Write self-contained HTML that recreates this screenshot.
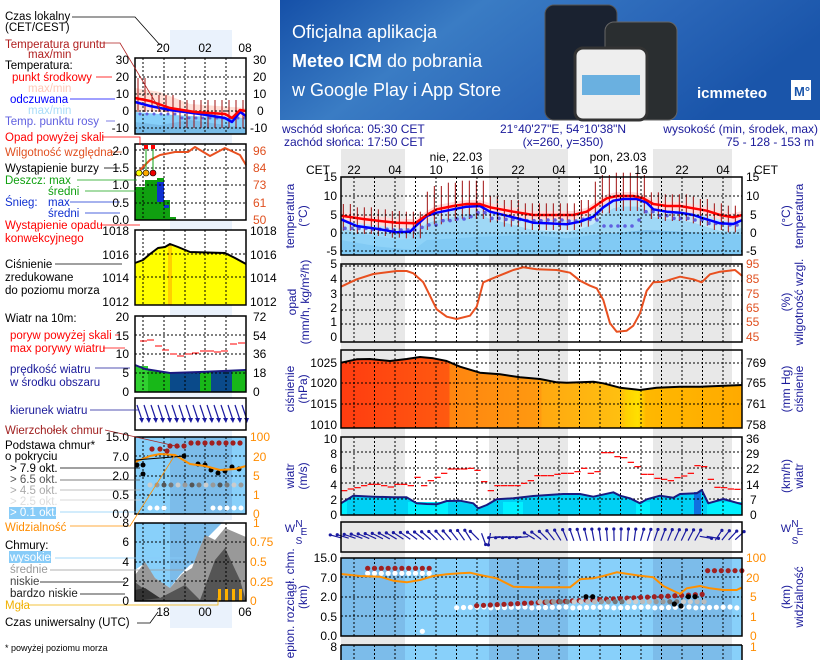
<!DOCTYPE html>
<html><head><meta charset="utf-8"><style>
html,body{margin:0;padding:0;background:#fff;}
svg{display:block;font-family:"Liberation Sans",sans-serif;}
</style></head><body>
<svg id="s" width="820" height="660" viewBox="0 0 820 660" xmlns="http://www.w3.org/2000/svg">
<defs>
<linearGradient id="bn" x1="0" y1="0" x2="1" y2="0.3"><stop offset="0" stop-color="#1550a8"/><stop offset="0.35" stop-color="#3a7cc4"/><stop offset="0.7" stop-color="#2a66b8"/><stop offset="1" stop-color="#1a55aa"/></linearGradient>
<linearGradient id="pg" x1="0" y1="0" x2="1" y2="0">
<stop offset="0" stop-color="#ff3c10"/><stop offset="0.27" stop-color="#ff5a10"/><stop offset="0.27" stop-color="#ff8510"/><stop offset="0.5" stop-color="#ff9a10"/><stop offset="0.5" stop-color="#ffa810"/><stop offset="0.7" stop-color="#ffc010"/><stop offset="0.71" stop-color="#ffd000"/><stop offset="0.74" stop-color="#ffe000"/><stop offset="0.76" stop-color="#ffb800"/><stop offset="1" stop-color="#ffaa00"/></linearGradient>
</defs>
<rect x="280" y="0" width="540" height="120" fill="url(#bn)"/>
<text x="292" y="38" fill="#fff" font-size="18">Oficjalna aplikacja</text>
<text x="292" y="67" fill="#fff" font-size="18"><tspan font-weight="bold">Meteo ICM</tspan> do pobrania</text>
<text x="292" y="96" fill="#fff" font-size="18">w Google Play i App Store</text>
<rect x="545" y="5" width="72" height="115" rx="9" fill="#1a2230" stroke="#555"/>
<rect x="605" y="22" width="72" height="98" rx="9" fill="#2a2e30" stroke="#666"/>
<rect x="575" y="48" width="72" height="72" rx="8" fill="#eee" stroke="#333" stroke-width="3"/>
<rect x="582" y="75" width="58" height="20" fill="#6ab0e0"/>
<text x="697" y="98" fill="#fff" font-size="15" font-weight="bold">icmmeteo</text>
<rect x="791" y="80" width="20" height="20" fill="#fff"/><text x="794" y="96" fill="#1a55aa" font-size="13" font-weight="bold">M°</text>

<rect x="170" y="30" width="62" height="598" fill="#eaf2fc"/>
<rect x="341" y="149" width="64" height="511" fill="#e8e8e8"/>
<rect x="489" y="149" width="79" height="511" fill="#e8e8e8"/>
<rect x="653" y="149" width="79" height="511" fill="#e8e8e8"/>

<g id="g"></g>

<g fill="#1a1a9a" font-size="12">
<text x="282" y="133">wschód słońca: 05:30 CET</text>
<text x="284" y="146">zachód słońca: 17:50 CET</text>
<text x="563" y="133" text-anchor="middle">21°40'27"E, 54°10'38"N</text>
<text x="563" y="146" text-anchor="middle">(x=260,  y=350)</text>
<text x="818" y="133" text-anchor="end">wysokość (min, środek, max)</text>
<text x="770" y="146" text-anchor="middle">75 - 128 - 153 m</text>
</g>
<g fill="#000" font-size="12" text-anchor="middle">
<text x="456" y="161">nie, 22.03</text><text x="618" y="161">pon, 23.03</text>
<text x="318" y="174">CET</text><text x="766" y="174">CET</text>
<text x="354" y="174">22</text><text x="395" y="174">04</text><text x="436" y="174">10</text><text x="477" y="174">16</text><text x="518" y="174">22</text><text x="559" y="174">04</text><text x="600" y="174">10</text><text x="641" y="174">16</text><text x="682" y="174">22</text><text x="723" y="174">04</text>
</g>
<g font-size="12" fill="#000">
<g text-anchor="end">
<text x="337" y="181">15</text><text x="337" y="200">10</text><text x="337" y="219">5</text><text x="337" y="237">0</text><text x="337" y="255">-5</text>
<text x="337" y="268">5</text><text x="337" y="283">4</text><text x="337" y="298">3</text><text x="337" y="312">2</text><text x="337" y="326">1</text><text x="337" y="341">0</text>
<text x="337" y="367">1025</text><text x="337" y="387">1020</text><text x="337" y="408">1015</text><text x="337" y="429">1010</text>
<text x="337" y="443">10</text><text x="337" y="458">8</text><text x="337" y="473">6</text><text x="337" y="489">4</text><text x="337" y="504">2</text><text x="337" y="519">0</text>
<text x="337" y="562">15.0</text><text x="337" y="582">7.0</text><text x="337" y="601">2.0</text><text x="337" y="621">0.5</text><text x="337" y="640">0.0</text>
<text x="337" y="651">8</text>
</g>
<text x="746" y="181">15</text><text x="746" y="200">10</text><text x="750" y="219">5</text><text x="750" y="237">0</text><text x="746" y="255">-5</text>
<g fill="#e05020"><text x="746" y="268">95</text><text x="746" y="283">85</text><text x="746" y="298">75</text><text x="746" y="312">65</text><text x="746" y="326">55</text><text x="746" y="341">45</text></g>
<text x="746" y="367">769</text><text x="746" y="387">765</text><text x="746" y="408">761</text><text x="746" y="429">758</text>
<text x="746" y="443">36</text><text x="746" y="458">29</text><text x="746" y="473">22</text><text x="746" y="489">14</text><text x="750" y="504">7</text><text x="750" y="519">0</text>
<g fill="#ff8c00"><text x="746" y="562">100</text><text x="746" y="582">20</text><text x="750" y="601">5</text><text x="750" y="621">1</text><text x="750" y="640">0</text><text x="750" y="651">1</text></g>
</g>
<g font-size="12" fill="#1a1a9a" text-anchor="middle">
<text transform="translate(294,216) rotate(-90)">temperatura</text><text transform="translate(307,216) rotate(-90)">(°C)</text>
<text transform="translate(296,302) rotate(-90)">opad</text><text transform="translate(309,302) rotate(-90)">(mm/h, kg/m²/h)</text>
<text transform="translate(294,389) rotate(-90)">ciśnienie</text><text transform="translate(307,389) rotate(-90)">(hPa)</text>
<text transform="translate(294,476) rotate(-90)">wiatr</text><text transform="translate(307,476) rotate(-90)">(m/s)</text>
<text transform="translate(294,600) rotate(-90)">pion. rozciągł. chm.</text><text transform="translate(307,597) rotate(-90)">(km)</text>
<text transform="translate(294,655) rotate(-90)">e</text>
<text transform="translate(790,216) rotate(-90)">(°C)</text><text transform="translate(803,216) rotate(-90)">temperatura</text>
<text transform="translate(790,302) rotate(-90)">(%)</text><text transform="translate(803,302) rotate(-90)">wilgotność wzgl.</text>
<text transform="translate(790,389) rotate(-90)">(mm Hg)</text><text transform="translate(803,389) rotate(-90)">ciśnienie</text>
<text transform="translate(790,476) rotate(-90)">(km/h)</text><text transform="translate(803,476) rotate(-90)">wiatr</text>
<text transform="translate(790,597) rotate(-90)">(km)</text><text transform="translate(803,597) rotate(-90)">widzialność</text>
<text x="290" y="532" font-size="11">W</text><text x="299" y="527" font-size="10">N</text><text x="299" y="544" font-size="10">S</text><text x="304" y="535" font-size="10">E</text>
<text x="786" y="532" font-size="11">W</text><text x="795" y="527" font-size="10">N</text><text x="795" y="544" font-size="10">S</text><text x="800" y="535" font-size="10">E</text>
</g>

<g font-size="11.5">
<text x="5" y="20">Czas lokalny</text><text x="5" y="31">(CET/CEST)</text>
<text x="5" y="48" fill="#b02020">Temperatura gruntu</text><text x="28" y="58" fill="#b02020">max/min</text>
<text x="5" y="69">Temperatura:</text>
<text x="12" y="81" fill="#f00">punkt środkowy</text><text x="28" y="92" fill="#ffc8b8">max/min</text>
<text x="10" y="103" fill="#00f">odczuwana</text><text x="28" y="114" fill="#a8dcf8">max/min</text>
<text x="5" y="125" fill="#6060e0">Temp. punktu rosy</text>
<text x="5" y="141" fill="#f00">Opad powyżej skali</text>
<text x="5" y="156" fill="#e05020">Wilgotność względna</text>
<text x="5" y="172">Wystąpienie burzy</text>
<text x="5" y="184" fill="#10a010">Deszcz: max</text><text x="48" y="195" fill="#10a010">średni</text>
<text x="5" y="206" fill="#1030d0">Śnieg:</text><text x="48" y="206" fill="#1030d0">max</text><text x="48" y="217" fill="#1030d0">średni</text>
<text x="5" y="229" fill="#f00">Wystąpienie opadu</text><text x="5" y="242" fill="#f00">konwekcyjnego</text>
<text x="5" y="268">Ciśnienie</text><text x="5" y="281">zredukowane</text><text x="5" y="294">do poziomu morza</text>
<text x="5" y="322">Wiatr na 10m:</text>
<text x="10" y="339" fill="#f00">poryw powyżej skali</text><text x="10" y="352" fill="#f00">max porywy wiatru</text>
<text x="10" y="373" fill="#1a1a9a">prędkość wiatru</text><text x="10" y="386" fill="#1a1a9a">w środku obszaru</text>
<text x="10" y="414" fill="#1a1a9a">kierunek wiatru</text>
<text x="5" y="434" fill="#a02020">Wierzchołek chmur</text>
<text x="5" y="449">Podstawa chmur*</text><text x="5" y="460">o pokryciu</text>
<text x="10" y="472">&gt; 7.9 okt.</text><text x="10" y="483" fill="#555">&gt; 6.5 okt.</text><text x="10" y="494" fill="#aaa">&gt; 4.5 okt.</text><text x="10" y="505" fill="#ddd">&gt; 2.5 okt.</text>
<rect x="9" y="507" width="47" height="12" fill="#88ccf8"/><text x="10" y="516" fill="#fff">&gt; 0.1 okt.</text>
<text x="5" y="531" fill="#ff8c00">Widzialność</text>
<text x="5" y="549">Chmury:</text>
<rect x="9" y="551" width="42" height="12" fill="#88ccf8"/><text x="10" y="561" fill="#fff">wysokie</text>
<text x="10" y="573" fill="#999">średnie</text><text x="10" y="585" fill="#444">niskie</text><text x="10" y="597" fill="#222">bardzo niskie</text>
<text x="5" y="609" fill="#f0b000">Mgła</text>
<text x="5" y="626">Czas uniwersalny (UTC)</text>
<text x="5" y="651" font-size="9">* powyżej poziomu morza</text>
</g>
<g font-size="12" text-anchor="middle">
<text x="163" y="52">20</text><text x="205" y="52">02</text><text x="245" y="52">08</text>
<text x="163" y="616">18</text><text x="205" y="616">00</text><text x="245" y="616">06</text>
</g>
<g font-size="12" text-anchor="end">
<text x="129" y="64">30</text><text x="129" y="81">20</text><text x="129" y="98">10</text><text x="129" y="115">0</text><text x="129" y="132">-10</text>
<text x="129" y="155">2.0</text><text x="129" y="172">1.5</text><text x="129" y="189">1.0</text><text x="129" y="207">0.5</text><text x="129" y="224">0.0</text>
<text x="129" y="235">1018</text><text x="129" y="259">1016</text><text x="129" y="282">1014</text><text x="129" y="306">1012</text>
<text x="129" y="321">20</text><text x="129" y="340">15</text><text x="129" y="358">10</text><text x="129" y="377">5</text><text x="129" y="396">0</text>
<text x="129" y="441">15.0</text><text x="129" y="461">7.0</text><text x="129" y="480">2.0</text><text x="129" y="499">0.5</text><text x="129" y="518">0.0</text>
<text x="129" y="527">8</text><text x="129" y="546">6</text><text x="129" y="566">4</text><text x="129" y="586">2</text><text x="129" y="605">0</text>
</g>
<g font-size="12">
<text x="253" y="64">30</text><text x="253" y="81">20</text><text x="253" y="98">10</text><text x="257" y="115">0</text><text x="250" y="132">-10</text>
<g fill="#e05020"><text x="253" y="155">96</text><text x="253" y="172">84</text><text x="253" y="189">73</text><text x="253" y="207">61</text><text x="253" y="224">50</text></g>
<text x="250" y="235">1018</text><text x="250" y="259">1016</text><text x="250" y="282">1014</text><text x="250" y="306">1012</text>
<text x="253" y="321">72</text><text x="253" y="340">54</text><text x="253" y="358">36</text><text x="253" y="377">18</text><text x="253" y="396">0</text>
<g fill="#ff8c00"><text x="250" y="441">100</text><text x="253" y="461">20</text><text x="253" y="480">5</text><text x="253" y="499">1</text><text x="253" y="518">0</text>
<text x="253" y="527">1</text><text x="250" y="546">0.75</text><text x="250" y="566">0.5</text><text x="250" y="586">0.25</text><text x="250" y="605">0</text></g>
</g>
</svg>
<script>
var NS="http://www.w3.org/2000/svg",G=document.getElementById("g");
function el(t,a,p){var e=document.createElementNS(NS,t);for(var k in a)e.setAttribute(k,a[k]);(p||G).appendChild(e);return e;}
function Z1(a){return a.map(function(p){return (280+p[0]/3).toFixed(1)+","+(120+p[1]/3).toFixed(1)}).join(" ");}
function Z2(a){return a.map(function(p){return (280+p[0]/3).toFixed(1)+","+(340+p[1]/3).toFixed(1)}).join(" ");}
function pl(pts,st,w,f){return el(f?"polygon":"polyline",{points:pts,fill:f||"none",stroke:st,"stroke-width":w,"stroke-linejoin":"round"});}
function grid(x1,x2,y1,y2,xs,ys){xs.forEach(function(x){el("line",{x1:x,x2:x,y1:y1,y2:y2,stroke:"#000","stroke-width":1,"stroke-dasharray":"2,2"})});ys.forEach(function(y){el("line",{x1:x1,x2:x2,y1:y,y2:y,stroke:"#000","stroke-width":1,"stroke-dasharray":"2,2"})});}
function box(x,y,w,h){el("rect",{x:x,y:y,width:w,height:h,fill:"none",stroke:"#000","stroke-width":1.5});}
var MX=[];for(var i=0;i<19;i++)MX.push(354+i*20.5);
var red=[[183,287],[250,297],[300,303],[350,308],[405,310],[440,285],[470,268],[520,258],[560,252],[600,252],[630,262],[700,275],[760,285],[880,285],[920,275],[950,255],[980,235],[1010,228],[1060,228],[1090,235],[1120,252],[1160,258],[1200,258],[1240,265],[1280,272],[1320,285],[1360,292],[1387,285]];
var blu=[[183,298],[230,318],[300,328],[350,337],[390,335],[405,320],[440,288],[470,278],[520,268],[560,260],[600,258],[630,275],[700,292],[760,308],[800,310],[860,313],[900,305],[940,290],[970,262],[1000,242],[1030,237],[1070,237],[1100,248],[1120,268],[1160,275],[1200,278],[1240,285],[1270,295],[1320,310],[1360,312],[1387,300]];
function shift(a,d){return a.map(function(p){return [p[0],p[1]+d]});}
el("rect",{x:341,y:233,width:401,height:22,fill:"#86d0fa"});
pl(Z1(shift(blu,22).concat([[1387,405],[183,405]])),"none",0,"#9fd8f6");
pl(Z1([[183,360],[300,380],[400,390],[440,360],[600,350],[760,345],[860,355],[940,345],[1100,330],[1300,340],[1387,345],[1387,405],[183,405]]),"none",0,"#7cc0ec");
pl(Z1(shift(blu,-12).concat(shift(blu,22).reverse())),"none",0,"#c6e8fa");
pl(Z1(shift(red,-12).concat(shift(red,14).reverse())),"none",0,"#ffdcdc");
el("rect",{x:341,y:233,width:401,height:22,fill:"#86d0fa","fill-opacity":0.6});
for(var x=190;x<1380;x+=21){var t=red.reduce(function(b,p){return Math.abs(p[0]-x)<Math.abs(b[0]-x)?p:b;});var a=(x>440&&x<620)||(x>930&&x<1110)?70:35;el("line",{x1:280+x/3,x2:280+x/3,y1:120+(t[1]-a)/3,y2:120+(t[1]+45)/3,stroke:"#a01010","stroke-width":1});}
var dew=[[195,325],[250,325],[300,328],[350,330],[400,330],[430,322],[460,315],[500,302],[540,297],[570,290],[600,278],[630,295],[700,298],[760,302],[820,300],[880,303],[920,298],[950,300],[980,318],[1050,318],[1080,300],[1100,275],[1150,287],[1200,295],[1250,300],[1300,310],[1387,315]];
for(var x=195;x<1387;x+=21){var t=dew.reduce(function(b,p){return Math.abs(p[0]-x)<Math.abs(b[0]-x)?p:b;});el("circle",{cx:280+x/3,cy:120+t[1]/3,r:1.8,fill:"#6060e0"});}
pl(Z1(blu),"#0000ff",2.5);pl(Z1(red),"#ff0000",2.5);
grid(341,742,177,255,MX,[196,215,233,251]);box(341,177,401,78);
var hum=[[183,500],[230,478],[280,462],[350,453],[380,453],[400,460],[430,487],[470,568],[500,590],[530,597],[570,587],[590,560],[610,487],[650,470],[700,450],[730,442],[770,448],[830,450],[870,458],[900,482],[930,497],[950,505],[970,540],[990,610],[1010,635],[1040,632],[1060,617],[1080,580],[1100,512],[1120,487],[1150,485],[1200,470],[1240,478],[1265,487],[1290,463],[1320,455],[1365,450],[1387,468]];
grid(341,742,264,342,MX,[266,281,295,310,324]);pl(Z1(hum),"#e85020",2);box(341,264,401,78);
var pr=[[183,68],[230,58],[270,57],[330,63],[380,57],[420,51],[460,55],[500,63],[540,80],[600,98],[660,103],[720,112],[780,117],[830,127],[860,128],[940,125],[970,130],[1020,143],[1080,150],[1130,143],[1200,140],[1260,140],[1387,135]];
pl(Z2(pr.concat([[1387,265],[183,265]])),"none",0,"url(#pg)");
grid(341,742,350,428,MX,[363,383,404]);pl(Z2(pr),"#000",2);box(341,350,401,78);
var wd=[[183,490],[220,467],[280,470],[340,472],[380,472],[410,490],[440,492],[470,493],[500,483],[540,482],[580,490],[595,505],[620,495],[650,478],[700,475],[760,468],[850,462],[900,462],[940,470],[1000,457],[1020,467],[1050,475],[1080,490],[1100,478],[1140,467],[1180,473],[1200,462],[1250,460],[1265,450],[1285,490],[1330,477],[1387,493]];
pl(Z2(wd.concat([[1387,525],[183,525]])),"none",0,"#00d0f4");
el("rect",{x:341,y:502,width:6,height:13,fill:"#00f0ff"});el("rect",{x:408,y:502,width:40,height:13,fill:"#00f0ff"});el("rect",{x:503,y:502,width:20,height:13,fill:"#00f0ff"});el("rect",{x:636,y:502,width:14,height:13,fill:"#00f0ff"});el("rect",{x:694,y:492,width:7,height:23,fill:"#1070e0"});el("rect",{x:707,y:502,width:35,height:13,fill:"#00f0ff"});
grid(341,742,437,515,MX,[452,468,483,499]);
var gu=[[183,452],[203,447],[223,443],[243,437],[263,433],[283,433],[303,437],[323,441],[343,433],[363,433],[383,437],[403,412],[423,437],[443,422],[463,412],[483,400],[503,387],[523,387],[543,387],[563,385],[583,391],[603,425],[623,452],[643,437],[663,437],[683,437],[703,437],[723,430],[743,422],[763,407],[783,407],[803,407],[823,403],[843,400],[863,400],[883,395],[903,385],[923,400],[943,395],[963,338],[983,338],[1003,350],[1023,353],[1043,367],[1063,380],[1083,403],[1103,403],[1123,415],[1143,418],[1163,422],[1183,413],[1203,408],[1223,400],[1243,377],[1263,380],[1283,418],[1303,442],[1323,443],[1343,447],[1363,448]];
gu.forEach(function(p){el("line",{x1:280+p[0]/3,x2:280+(p[0]+19)/3,y1:340+p[1]/3,y2:340+p[1]/3,stroke:"#f00","stroke-width":1.2})});
pl(Z2(wd),"#1a1a80",2);box(341,437,401,78);
// wind direction arrows (angle = direction arrow points, deg from east, CCW)
for(var k=0;k<59;k++){var x=338+k*6.9,ang;
 if(x<425)ang=165-(x-338)/87*25;
 else if(x<475)ang=140-(x-425)/50*20;
 else if(x<482)ang=135;
 else if(x<496)ang=[290,260,250][k%3];
 else if(x<530)ang=185;
 else if(x<560)ang=150-(x-530)/30*30;
 else if(x<640)ang=115-(x-560)/80*35;
 else if(x<700)ang=75-(x-640)/60*15;
 else if(x<712)ang=350;
 else ang=60-(x-712)/30*20;
 var r=ang*Math.PI/180,L=8,cx=x,cy=537;var x2=cx+L*Math.cos(r),y2=cy-L*Math.sin(r),x1=cx-L*Math.cos(r)*0.5,y1=cy+L*Math.sin(r)*0.5;
 el("line",{x1:x1,y1:y1,x2:x2,y2:y2,stroke:"#1a1aa0","stroke-width":1.2});el("circle",{cx:x2,cy:y2,r:1.6,fill:"#1a1aa0"});}
box(341,522,401,30);
el("rect",{x:341,y:558,width:401,height:78,fill:"#88d0fa"});
[[341,64],[489,79],[653,79]].forEach(function(b){el("rect",{x:b[0],y:558,width:b[1],height:78,fill:"#7cbcea"})});
el("rect",{x:341,y:645,width:401,height:15,fill:"#88d0fa"});
[[341,64],[489,79],[653,79]].forEach(function(b){el("rect",{x:b[0],y:645,width:b[1],height:15,fill:"#7cbcea"})});
grid(341,742,558,636,MX,[577,597,616]);
grid(341,742,645,660,MX,[]);
var vis=[[183,702],[240,708],[300,710],[340,722],[380,727],[420,720],[460,708],[500,703],[540,700],[570,698],[600,705],[650,715],[700,740],[760,742],[870,742],[900,718],[940,715],[970,708],[1010,697],[1050,703],[1080,707],[1120,712],[1150,738],[1200,762],[1220,745],[1260,738],[1290,745],[1330,750],[1370,750],[1387,742]];
function dot(zx,zy,c){el("circle",{cx:280+zx/3,cy:340+zy/3,r:2.6,fill:c});}
for(var x=263;x<=448;x+=20.5){dot(x,685,"#a02020");dot(x,700,"#fff");}
for(var x=530;x<1387;x+=20.5){dot(x,801+(x%3),"#fff");}
for(var x=590;x<1280;x+=20.5){dot(x,797-(x-590)*0.05,"#a02020");}
for(var x=780;x<1285;x+=20.5){dot(x,785,["#bbb","#999","#777","#ccc"][Math.round(x)%4]);}
[918,938,1225,1245].forEach(function(x){dot(x,770,"#000")});dot(1183,792,"#000");dot(1203,798,"#000");
for(var x=1283;x<1390;x+=20.5)dot(x,692,"#a02020");
dot(427,874,"#fff");
pl(Z2(vis),"#ff9000",2);
box(341,558,401,78);
el("line",{x1:341,x2:742,y1:645,y2:645,stroke:"#000","stroke-width":1.5});el("line",{x1:341,x2:341,y1:645,y2:660,stroke:"#000","stroke-width":1.5});el("line",{x1:742,x2:742,y1:645,y2:660,stroke:"#000","stroke-width":1.5});

var LX=[143,164,185,205,226];
el("rect",{x:135,y:58,width:111,height:76,fill:"#fff"});
pl("135,88 160,92 190,104 246,108 246,118 135,110","none",0,"#ffe0d8");
pl("135,112 160,114 190,116 246,118 246,134 135,134","none",0,"#86d0fa");
pl("135,122 160,125 190,120 246,128 246,134 135,134","none",0,"#78bce8");
for(var x=138;x<246;x+=7){el("line",{x1:x,x2:x,y1:(x<150?78:x<180?95:100),y2:(x<170?112:128),stroke:"#a01010","stroke-width":1});}
for(var x=140;x<246;x+=7)el("circle",{cx:x,cy:x<180?114:118,r:1.5,fill:"#6060e0"});
grid(135,246,58,134,LX,[77,94,111,128]);
pl("135,102 150,106 170,110 200,114 225,118 232,122 240,112 246,116","#0000ff",2.5);
pl("135,98 150,101 170,108 195,112 225,114 232,118 240,110 246,111","#ff0000",2.5);
box(135,58,111,76);
el("rect",{x:135,y:144,width:111,height:76,fill:"#fff"});
[[135,187,10,33],[145,180,12,40],[157,178,7,42],[164,200,6,20],[170,217,6,3]].forEach(function(r){el("rect",{x:r[0],y:r[1],width:r[2],height:r[3],fill:"#10a010"})});
el("rect",{x:157,y:182,width:7,height:20,fill:"#1030d0"});el("rect",{x:164,y:205,width:5,height:3,fill:"#1030d0"});
grid(135,246,144,220,LX,[150,168,185,203]);
pl("135,176 142,168 150,160 160,155 175,152 188,152 195,147 210,156 225,148 240,155 246,165","#e85020",2);
[[146,"#f00"],[153,"#f00"]].forEach(function(p){el("line",{x1:p[0],x2:p[0],y1:147,y2:173,stroke:"#10a010"});el("rect",{x:p[0]-2,y:145,width:4,height:4,fill:"#f00"})});
[[139,"#ff0"],[146,"#fa0"],[153,"#e00"]].forEach(function(p){el("circle",{cx:p[0],cy:173,r:3,fill:p[1],stroke:"#000","stroke-width":0.6})});
box(135,144,111,76);
el("rect",{x:135,y:230,width:111,height:75,fill:"#fff"});
pl("135,263 143,260 150,254 158,248 165,247 170,244 178,247 190,252 225,253 235,258 246,264 246,305 135,305","none",0,"#ffff00");
el("rect",{x:168,y:245,width:4,height:60,fill:"#ffd000"});
grid(135,246,230,305,LX,[254,277]);
pl("135,263 143,260 150,254 158,248 165,247 170,244 178,247 190,252 225,253 235,258 246,264","#000",2);
box(135,230,111,75);
el("rect",{x:135,y:316,width:111,height:76,fill:"#fff"});
pl("135,365 145,369 170,373 200,372 246,370 246,392 135,392","none",0,"#18b818");
el("rect",{x:170,y:372,width:30,height:20,fill:"#0a4a8a"});el("rect",{x:211,y:371,width:21,height:21,fill:"#0a4a8a"});el("rect",{x:135,y:366,width:13,height:26,fill:"#30d030"});
grid(135,246,316,392,LX,[335,354,373]);
[[140,341],[147,340],[155,346],[162,350],[170,354],[177,356],[185,354],[192,353],[200,351],[207,351],[214,352],[221,351],[230,344],[238,343]].forEach(function(p){el("line",{x1:p[0],x2:p[0]+7,y1:p[1],y2:p[1],stroke:"#f00"})});
pl("135,365 145,369 170,373 200,372 246,370","#1a1a80",2);
box(135,316,111,76);
el("rect",{x:135,y:398,width:111,height:32,fill:"#fff"});
for(var x=140;x<250;x+=7){el("line",{x1:x-3,y1:405,x2:x+2,y2:420,stroke:"#1a1aa0","stroke-width":1.2});el("path",{d:"M"+(x-1)+" 418 l5 0 l-2 5z",fill:"#1a1aa0"});}
box(135,398,111,32);
el("rect",{x:135,y:437,width:111,height:77,fill:"#88d0fa"});
el("rect",{x:170,y:437,width:62,height:77,fill:"#7cbcea"});
grid(135,246,437,514,LX,[456,476,495]);
[[152,449],[160,449],[167,451]].forEach(function(p){el("circle",{cx:p[0],cy:p[1],r:2.6,fill:"#a02020"})});
for(var x=170;x<246;x+=7)el("circle",{cx:x,cy:x<185?446:443,r:2.6,fill:"#a02020"});
[[137,465],[143,465],[143,474],[184,456],[198,464],[205,465],[211,470],[218,473],[225,471],[232,467],[239,469]].forEach(function(p){el("circle",{cx:p[0],cy:p[1],r:2.5,fill:"#000"})});
for(var x=150;x<246;x+=7){el("circle",{cx:x,cy:485,r:2.5,fill:["#555","#999","#ccc","#777"][x%4]});}
for(var x=150;x<246;x+=7)if(x>210||x<165)el("circle",{cx:x,cy:508,r:2.5,fill:"#fff"});
pl("135,462 150,456 160,454 175,455 190,464 205,466 220,470 235,469 246,466","#ff9000",2);
el("line",{x1:135,y1:460,x2:185,y2:456,stroke:"#000"});
box(135,437,111,77);
el("rect",{x:135,y:523,width:111,height:78,fill:"#88d0fa"});
el("rect",{x:170,y:523,width:62,height:78,fill:"#7cbcea"});
pl("135,601 135,570 145,563 155,578 170,588 180,575 190,565 200,560 205,540 212,533 225,520 246,520 246,601","none",0,"#fff");
pl("135,601 135,575 145,562 155,578 170,588 182,574 192,568 198,552 205,535 215,540 225,528 246,537 246,601","none",0,"#999");
pl("135,601 135,582 145,590 160,598 185,585 200,600 215,560 225,548 240,580 246,601","none",0,"#555");
pl("135,601 135,590 145,588 160,598 135,601","none",0,"#333");
grid(135,246,523,601,LX,[542,562,581]);
[[218,5],[225,5],[232,5],[239,5]].forEach(function(p){el("rect",{x:p[0],y:589,width:3,height:12,fill:"#ffb000"})});
box(135,523,111,78);
function ln(a,c){el("polyline",{points:a.join(" "),fill:"none",stroke:c||"#000","stroke-width":0.8});}
ln(["72,17","135,17","160,45"]);ln(["100,43","120,43","160,110"],"#b02020");
ln(["96,77","112,77"],"#f00");ln(["70,99","115,99"],"#00f");ln(["106,121","115,121"],"#6060e0");
ln(["102,137","140,137","140,145"],"#f00");ln(["110,152","122,152"],"#e05020");ln(["104,168","120,168"]);
ln(["77,180","137,180"],"#10a010");ln(["85,191","138,191"],"#10a010");ln(["70,202","120,202"],"#1030d0");ln(["85,213","120,213"],"#1030d0");
ln(["100,225","140,225"],"#f00");ln(["55,264","122,264"]);ln(["115,335","120,335"],"#f00");ln(["103,348","125,348"],"#f00");ln(["95,368","130,368"],"#1a1a9a");
ln(["90,410","138,410"],"#1a1a9a");ln(["105,430","180,447"],"#a02020");ln(["60,468","140,468"]);ln(["60,480","140,480"],"#555");ln(["60,490","140,490"],"#aaa");ln(["60,500","140,500"],"#ccc");ln(["60,512","140,512"],"#88ccf8");
ln(["70,526","130,526","175,455"],"#ff9000");ln(["55,558","185,558"],"#88ccf8");ln(["50,570","185,570"],"#999");ln(["40,582","125,582"]);ln(["80,594","125,594"]);ln(["28,605","218,605","218,598"],"#f0b000");ln(["137,623","150,623","158,612"]);
</script>
</body></html>
